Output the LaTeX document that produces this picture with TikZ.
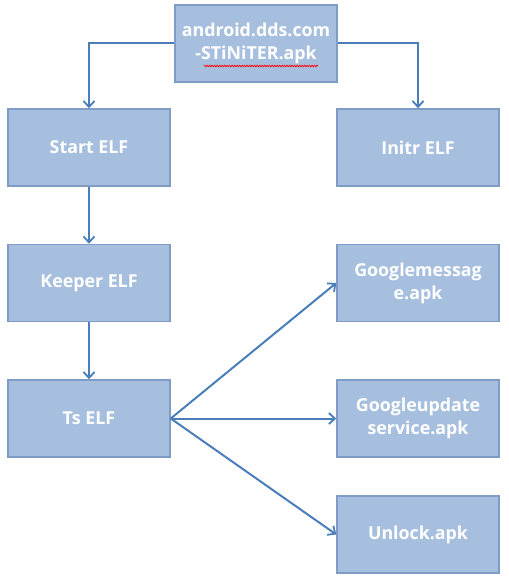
\documentclass[tikz,border=0pt]{standalone}
\usepackage{fontspec}
\setmainfont{Open Sans}
\usetikzlibrary{arrows.meta,decorations.pathmorphing}
\definecolor{boxfill}{HTML}{A7BFDE}
\definecolor{boxline}{HTML}{7E9CC6}
\definecolor{conn}{HTML}{4A7EBB}
\begin{document}
\begin{tikzpicture}[x=1pt,y=-1pt,
  box/.style={draw=boxline, fill=boxfill, line width=1.5pt, minimum width=162pt, minimum height=77pt,
    inner sep=0pt, align=center, text=white, font=\fontsize{17.8}{23}\selectfont\bfseries},
  conn/.style={draw=conn, line width=2pt, -{Straight Barb[length=6pt,width=11pt,line width=1.8pt]}}]
\useasboundingbox (0,0) rectangle (508,580);
\node[box] (apk) at (256,43.5) {android.dds.com\\-STiNiTER.apk};
\node[box] (start) at (89,147.5) {Start ELF};
\node[box] (initr) at (418,147.5) {Initr ELF};
\node[box] (keeper) at (89,283) {Keeper ELF};
\node[box] (ts) at (89,418.5) {Ts ELF};
\node[box] (gmsg) at (418,283) {Googlemessag\\e.apk};
\node[box] (gupd) at (418,418.5) {Googleupdate\\service.apk};
\node[box] (unlock) at (418,534.5) {Unlock.apk};
\coordinate (wl) at (204,66);
\coordinate (wr) at (318,66);
\draw[red, line width=0.7pt, decorate, decoration={zigzag, amplitude=0.8pt, segment length=2.5pt}] (wl) -- (wr);
\draw[conn] (apk.west) -| (start.north);
\draw[conn] (apk.east) -| (initr.north);
\draw[conn] (start) -- (keeper);
\draw[conn] (keeper) -- (ts);
\draw[conn] (ts.east) -- (gmsg.west);
\draw[conn] (ts.east) -- (gupd.west);
\draw[conn] (ts.east) -- (unlock.west);
\end{tikzpicture}
\end{document}
